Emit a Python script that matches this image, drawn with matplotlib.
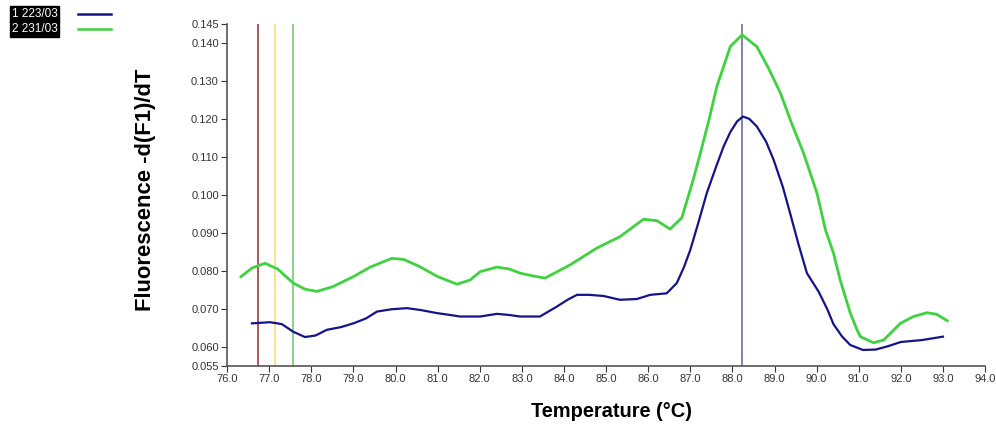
import matplotlib.pyplot as plt
from matplotlib.lines import Line2D

plt.rcParams['font.family'] = ['Liberation Sans', 'DejaVu Sans']

# sample 1 (223/03) - blue
t_blue = [76.59, 77.02, 77.3, 77.57, 77.85, 78.1, 78.37, 78.7, 79.0, 79.3, 79.56, 79.9,
          80.27, 80.6, 80.98, 81.3, 81.53, 81.77, 82.01, 82.41, 82.7, 82.96, 83.2, 83.43,
          83.83, 84.1, 84.31, 84.6, 84.94, 85.33, 85.73, 86.05, 86.44, 86.68, 86.85, 87.0,
          87.2, 87.39, 87.6, 87.79, 87.95, 88.11, 88.25, 88.4, 88.58, 88.8, 88.98, 89.2,
          89.37, 89.57, 89.77, 90.05, 90.25, 90.4, 90.6, 90.8, 91.1, 91.4, 91.7, 92.0,
          92.5, 93.0]
v_blue = [0.0662, 0.0665, 0.0660, 0.0640, 0.0626, 0.0630, 0.0645, 0.0652, 0.0662, 0.0675, 0.0693, 0.0699,
          0.0702, 0.0697, 0.0689, 0.0684, 0.0680, 0.0680, 0.0680, 0.0687, 0.0684, 0.0680, 0.0680, 0.0680,
          0.0706, 0.0725, 0.0737, 0.0737, 0.0734, 0.0724, 0.0726, 0.0737, 0.0741, 0.0768, 0.0810, 0.0855,
          0.0930, 0.1004, 0.1070, 0.1127, 0.1165, 0.1193, 0.1206, 0.1200, 0.1180, 0.1140, 0.1092, 0.1020,
          0.0952, 0.0870, 0.0794, 0.0745, 0.0700, 0.0660, 0.0628, 0.0605, 0.0592, 0.0593, 0.0602, 0.0613,
          0.0618, 0.0627]

# sample 2 (231/03) - green
t_green = [76.33, 76.6, 76.9, 77.2, 77.57, 77.85, 78.13, 78.5, 79.0, 79.4, 79.91, 80.2,
           80.58, 81.0, 81.46, 81.77, 82.01, 82.41, 82.7, 82.96, 83.3, 83.55, 84.15, 84.78,
           85.33, 85.89, 86.21, 86.52, 86.8, 87.07, 87.24, 87.45, 87.63, 87.95, 88.23, 88.58,
           88.85, 89.14, 89.4, 89.69, 90.01, 90.21, 90.4, 90.56, 90.8, 90.96, 91.04, 91.35,
           91.59, 91.99, 92.3, 92.62, 92.85, 93.1]
v_green = [0.0785, 0.0808, 0.0820, 0.0805, 0.0768, 0.0752, 0.0746, 0.0758, 0.0785, 0.0810, 0.0833, 0.0830,
           0.0811, 0.0785, 0.0765, 0.0776, 0.0798, 0.0810, 0.0805, 0.0794, 0.0786, 0.0781, 0.0816, 0.0860,
           0.0890, 0.0936, 0.0932, 0.0910, 0.0940, 0.1040, 0.1110, 0.1200, 0.1285, 0.1390, 0.1421, 0.1390,
           0.1335, 0.1268, 0.1190, 0.1110, 0.1004, 0.0908, 0.0847, 0.0776, 0.0689, 0.0645, 0.0627, 0.0611,
           0.0618, 0.0662, 0.0680, 0.0690, 0.0686, 0.0669]

markers_t = [76.74, 77.14, 77.57, 88.23]
markers_c = ['#a33a3a', '#f2e27a', '#7cc77c', '#6f6f9c']

xticks = [76 + i for i in range(19)]
yticks = [0.055, 0.060, 0.070, 0.080, 0.090, 0.100, 0.110, 0.120, 0.130, 0.140, 0.145]

fig = plt.figure(figsize=(9.96, 4.25), dpi=100)
ax = fig.add_axes([0.228, 0.139, 0.761, 0.805])

for t, c in zip(markers_t, markers_c):
    ax.axvline(t, color=c, lw=1.2, zorder=1)

ax.plot(t_green, v_green, color='#3fd23f', lw=2.0, zorder=3)
ax.plot(t_blue, v_blue, color='#14148a', lw=1.6, zorder=4)

ax.set_xlim(76, 94)
ax.set_ylim(0.055, 0.145)
ax.set_xticks(xticks)
ax.set_xticklabels(['%.1f' % t for t in xticks])
ax.set_yticks(yticks)
ax.set_yticklabels(['%.3f' % v for v in yticks])
ax.tick_params(labelsize=8, colors='#333333', length=4, width=0.8, pad=2)

for s in ['top', 'right']:
    ax.spines[s].set_visible(False)
for s in ['left', 'bottom']:
    ax.spines[s].set_color('#555555')
    ax.spines[s].set_linewidth(1.2)

fig.text(0.146, 0.553, 'Fluorescence -d(F1)/dT', rotation=90, fontsize=15.8,
         fontweight='bold', ha='center', va='center')
fig.text(0.614, 0.031, 'Temperature (\u00b0C)', fontsize=14.4, fontweight='bold',
         ha='center', va='center')

# legend top-left
labels = ['1 223/03', '2 231/03']
cols = ['#14148a', '#3fd23f']
for i, (lab, c) in enumerate(zip(labels, cols)):
    y = 1 - (14 + 15 * i) / 425
    fig.text(0.012, y, lab, fontsize=8.5, color='white', va='center', ha='left',
             bbox=dict(boxstyle='square,pad=0.15', fc='black', ec='black'))
    fig.add_artist(Line2D([0.078, 0.111], [y, y], color=c, lw=1.8))

fig.savefig('out.png', dpi=100)
